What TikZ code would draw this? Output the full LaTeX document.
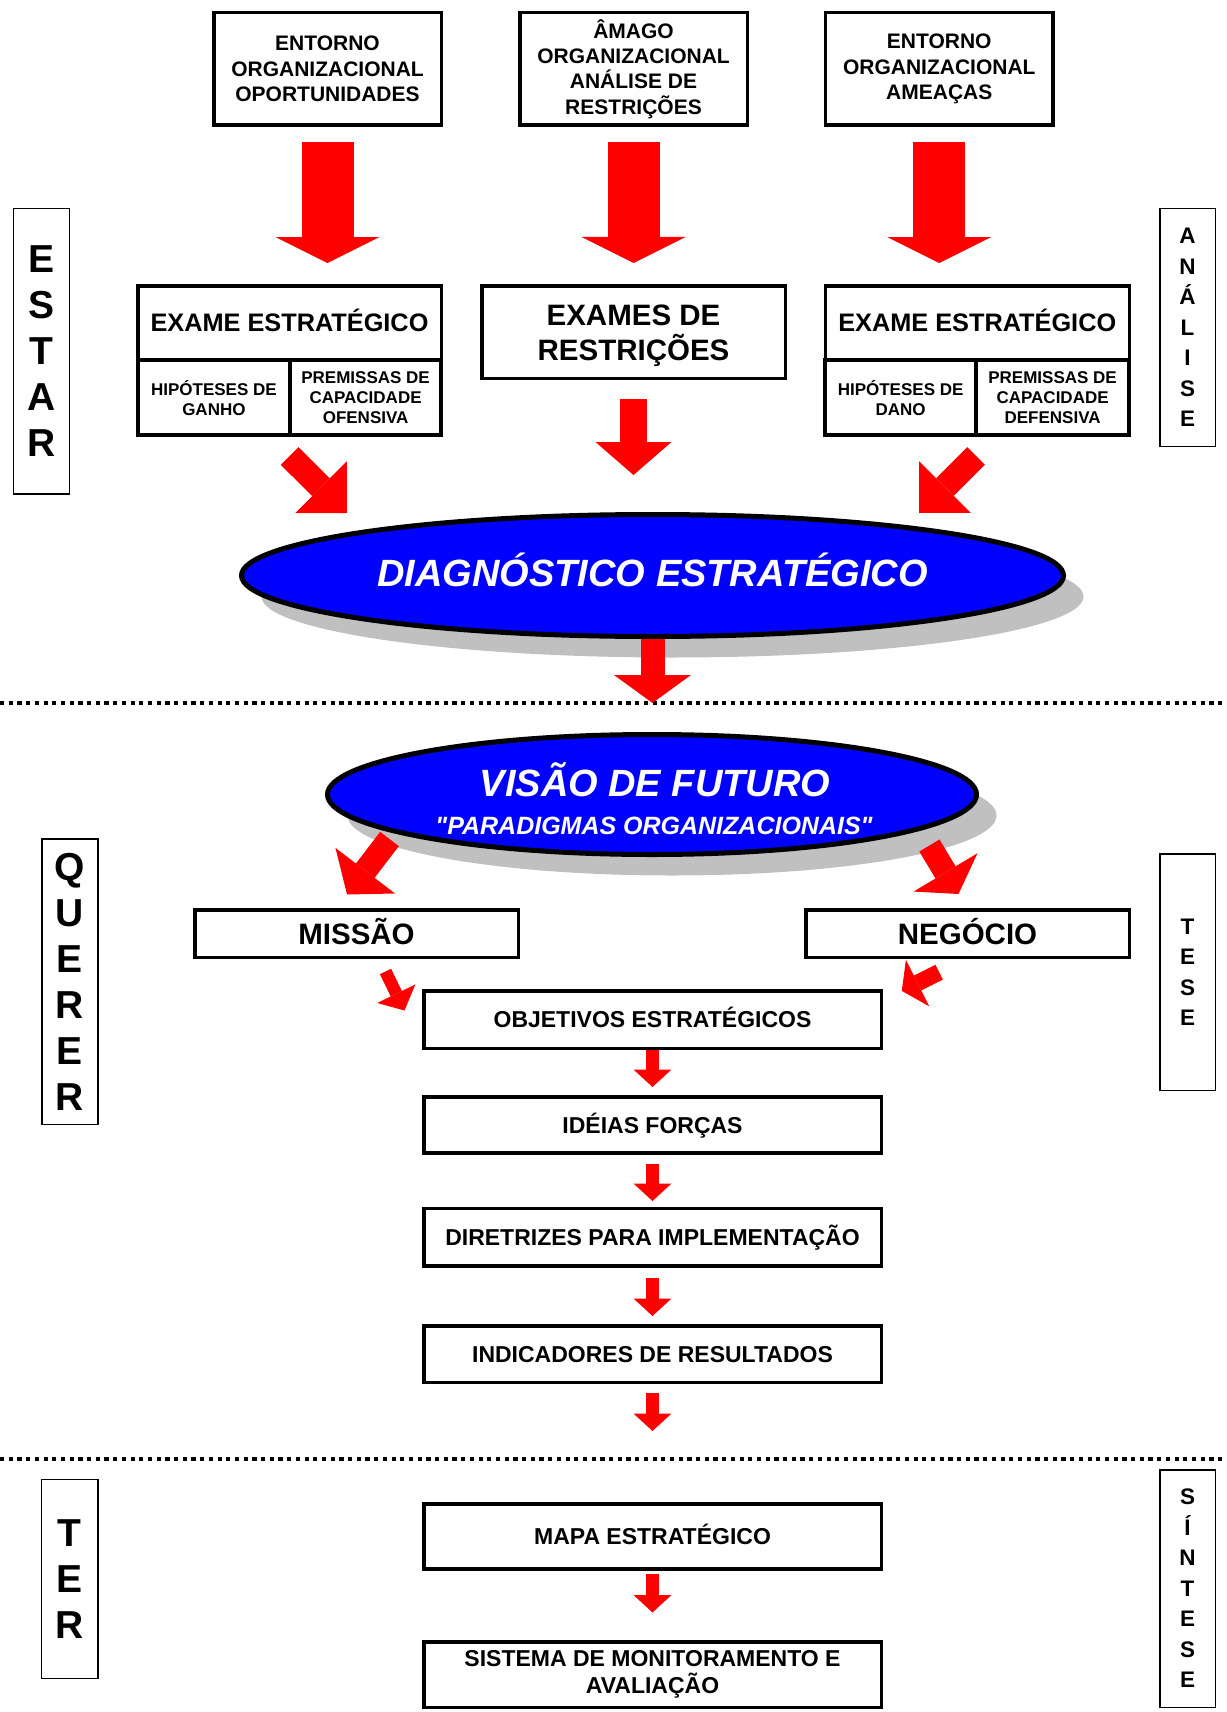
\documentclass[tikz,border=0pt]{standalone}
\usepackage{fontspec}
\setmainfont{Liberation Sans}
\usetikzlibrary{arrows.meta,shapes.geometric,shadows}
\definecolor{arrowred}{RGB}{255,0,0}
\definecolor{ovalblue}{RGB}{0,0,255}
\definecolor{shadowgray}{RGB}{192,192,192}
% font sizes
\newcommand{\fsTop}{\fontsize{10.5pt}{12.65pt}\selectfont}
\newcommand{\fsExam}{\fontsize{12.65pt}{15pt}\selectfont}
\newcommand{\fsCell}{\fontsize{8.5pt}{10pt}\selectfont}
\newcommand{\fsBig}{\fontsize{14.75pt}{17.5pt}\selectfont}
\newcommand{\fsBox}{\fontsize{11.5pt}{13.5pt}\selectfont}
\newcommand{\fsSideBig}{\fontsize{19.5pt}{23pt}\selectfont}
\newcommand{\fsSideSmall}{\fontsize{11.25pt}{15.25pt}\selectfont}
\newcommand{\fsOval}{\fontsize{19pt}{22pt}\selectfont}
\newcommand{\fsOvalSub}{\fontsize{12.5pt}{15pt}\selectfont}
% straight double quote, set as a glyph so no text mapping curls it
\newcommand{\straightquote}{\XeTeXglyph\XeTeXcharglyph"22\relax}
\begin{document}
\begin{tikzpicture}[x=0.5pt,y=-0.5pt,
  every node/.style={inner sep=0pt},
  box/.style={draw, line width=1.75pt, align=center},
  sidebox/.style={draw, line width=0.75pt, align=center},
  capline/.style={text height=#1, text depth=0pt},
  oval/.style={ellipse, draw, line width=2.5pt, fill=ovalblue, text=white,
    drop shadow={shadow xshift=10pt, shadow yshift=-10.5pt, fill=shadowgray, opacity=1}},
  blockarrow/.style n args={3}{draw=arrowred, line width=#1,
    -{Triangle[width=#2, length=#3, line width=0pt]}},
  sepline/.style={line width=2pt, dash pattern=on 2.1pt off 2.25pt},
]
\fill[white] (0,0) rectangle (1226,1712);
\useasboundingbox (0,0) rectangle (1226,1712);

% ---------- ESTAR ----------
\node[box, minimum width=113.75pt, minimum height=56.25pt, font=\bfseries\fsTop]
  (top1) at (327.5,69) {ENTORNO\\ORGANIZACIONAL\\OPORTUNIDADES};
\node[box, minimum width=113.75pt, minimum height=56.25pt, font=\bfseries\fsTop]
  (top2) at (633.5,69) {ÂMAGO\\ORGANIZACIONAL\\ANÁLISE DE\\RESTRIÇÕES};
\node[box, minimum width=113.75pt, minimum height=56.25pt, font=\bfseries\fsTop]
  (top3) at (939.25,69) {ENTORNO\\ORGANIZACIONAL\\AMEAÇAS};

% left strategic exam
\node[box, minimum width=151.75pt, minimum height=37.125pt, font=\bfseries\fsExam, capline=9.06pt]
  (ex1t) at (289.5,322.9) {EXAME ESTRATÉGICO};
\node[box, minimum width=76.125pt, minimum height=37.625pt, font=\bfseries\fsCell]
  (ex1a) at (213.9,397.6) {HIPÓTESES DE\\GANHO};
\node[box, minimum width=75.625pt, minimum height=37.625pt, font=\bfseries\fsCell]
  (ex1b) at (365.6,397.6) {PREMISSAS DE\\CAPACIDADE\\OFENSIVA};

% restriction exams
\node[box, minimum width=151.75pt, minimum height=46.25pt, font=\bfseries\fsBig]
  (exr) at (633.5,332) {\rule{0pt}{13.6pt}EXAMES DE\\RESTRIÇÕES};

% right strategic exam
\node[box, minimum width=152pt, minimum height=37.125pt, font=\bfseries\fsExam, capline=9.06pt]
  (ex3t) at (977.25,322.9) {EXAME ESTRATÉGICO};
\node[box, minimum width=75.375pt, minimum height=37.625pt, font=\bfseries\fsCell]
  (ex3a) at (900.6,397.6) {HIPÓTESES DE\\DANO};
\node[box, minimum width=76.625pt, minimum height=37.625pt, font=\bfseries\fsCell]
  (ex3b) at (1052.6,397.6) {PREMISSAS DE\\CAPACIDADE\\DEFENSIVA};

% side labels
\node[sidebox, minimum width=27.9pt, minimum height=142.75pt, font=\bfseries\fsSideBig]
  (estar) at (41.35,351.2) {E\\S\\T\\A\\R};
\node[sidebox, minimum width=27.75pt, minimum height=118.75pt, font=\bfseries\fsSideSmall]
  (analise) at (1187.5,327.5) {A\\N\\Á\\L\\I\\S\\E};

% diagnosis
\node[oval, minimum width=411pt, minimum height=61pt, font=\bfseries\itshape\fsOval,
      text height=13.6pt, text depth=2.5pt]
  (diag) at (652.5,575.5) {DIAGNÓSTICO ESTRATÉGICO};

% ---------- separators ----------
\coordinate (sep1w) at (0,703);
\coordinate (sep1e) at (1226,703);
\coordinate (sep1m) at (652.5,703);
\coordinate (sep2w) at (0,1459);
\coordinate (sep2e) at (1226,1459);
\draw[sepline] (sep1w) -- (sep1e);
\draw[sepline] (sep2w) -- (sep2e);

% ---------- QUERER ----------
\node[oval, minimum width=324.5pt, minimum height=60pt] (visao) at (652,794.5) {};
\node[anchor=base, text=white, font=\bfseries\itshape\fsOval]
  (vtitle) at (655,796.6) {VISÃO DE FUTURO};
\node[anchor=base, text=white, font=\bfseries\itshape\fsOvalSub]
  (vsub) at (654,834) {\straightquote PARADIGMAS ORGANIZACIONAIS\straightquote};

\node[box, minimum width=161.75pt, minimum height=23.75pt, font=\bfseries\fsBig, capline=10.56pt]
  (missao) at (356.5,933.5) {MISSÃO};
\node[box, minimum width=161.75pt, minimum height=23.75pt, font=\bfseries\fsBig, capline=10.56pt]
  (negocio) at (967.5,933.5) {NEGÓCIO};

\node[box, minimum width=228.75pt, minimum height=28.75pt, font=\bfseries\fsBox, capline=8.23pt]
  (objetivos) at (652.5,1019.5) {OBJETIVOS ESTRATÉGICOS};
\node[box, minimum width=228.75pt, minimum height=28.05pt, font=\bfseries\fsBox, capline=8.23pt]
  (ideias) at (652.5,1124.8) {IDÉIAS FORÇAS};
\node[box, minimum width=228.75pt, minimum height=28.7pt, font=\bfseries\fsBox, capline=8.23pt]
  (diretrizes) at (652.5,1237.25) {DIRETRIZES PARA IMPLEMENTAÇÃO};
\node[box, minimum width=228.75pt, minimum height=28.45pt, font=\bfseries\fsBox, capline=8.23pt]
  (indicadores) at (652.5,1354.2) {INDICADORES DE RESULTADOS};

\node[sidebox, minimum width=28pt, minimum height=142.75pt, font=\bfseries\fsSideBig]
  (querer) at (69.75,981.5) {Q\\U\\E\\R\\E\\R};
\node[sidebox, minimum width=27.75pt, minimum height=118.25pt, font=\bfseries\fsSideSmall]
  (tese) at (1187.5,972) {T\\E\\S\\E};

% ---------- TER ----------
\node[box, minimum width=228.75pt, minimum height=32.5pt, font=\bfseries\fsBox, capline=8.23pt]
  (mapa) at (652.5,1536.25) {MAPA ESTRATÉGICO};
\node[box, minimum width=228.75pt, minimum height=32.75pt, font=\bfseries\fsBox]
  (sistema) at (652.5,1674.5) {SISTEMA DE MONITORAMENTO E\\AVALIAÇÃO};

\node[sidebox, minimum width=28.15pt, minimum height=99.45pt, font=\bfseries\fsSideBig]
  (ter) at (69.6,1578.8) {T\\E\\R};
\node[sidebox, minimum width=27.75pt, minimum height=118.75pt, font=\bfseries\fsSideSmall]
  (sintese) at (1187.5,1588.5) {S\\Í\\N\\T\\E\\S\\E};

% ---------- arrows ----------
\draw[blockarrow={26pt}{52pt}{13pt}, shorten <=7.5pt, shorten >=10.5pt]
  (top1.south) -- (top1.south |- ex1t.north);
\draw[blockarrow={26pt}{52pt}{13pt}, shorten <=7.5pt, shorten >=10.5pt]
  (top2.south) -- (exr.north);
\draw[blockarrow={26pt}{52pt}{13pt}, shorten <=7.5pt, shorten >=10.5pt]
  (top3.south) -- (top3.south |- ex3t.north);

\draw[blockarrow={13.5pt}{38pt}{16.5pt}, shorten <=9.5pt, shorten >=18.5pt]
  (exr.south) -- (exr.south |- diag.north);

\coordinate (ex1out) at (289.6,456);
\coordinate (diagin1) at (347,513);
\coordinate (ex3out) at (976,456);
\coordinate (diagin3) at (919,513);
\draw[blockarrow={12.5pt}{36.5pt}{18.3pt}] (ex1out) -- (diagin1);
\draw[blockarrow={12.5pt}{36.5pt}{18.3pt}] (ex3out) -- (diagin3);

\draw[blockarrow={12pt}{38.5pt}{14pt}] (diag.south) -- (sep1m);

\coordinate (visout1) at (389.5,839);
\coordinate (missin) at (347,894.5);
\coordinate (visout2) at (929.4,845.5);
\coordinate (negin) at (958.5,894);
\draw[blockarrow={11.75pt}{37.5pt}{15pt}] (visout1) -- (missin);
\draw[blockarrow={11.75pt}{37.25pt}{12.6pt}] (visout2) -- (negin);

\coordinate (missout) at (385.5,971.5);
\coordinate (objin1) at (404.5,1010.5);
\coordinate (negout) at (939.2,972.2);
\coordinate (objin2) at (901.8,990.9);
\draw[blockarrow={6.2pt}{21.2pt}{9.35pt}] (missout) -- (objin1);
\draw[blockarrow={8.25pt}{26pt}{8.8pt}] (negout) -- (objin2);

\draw[blockarrow={6.5pt}{19pt}{8.75pt}, shorten >=4pt]
  (objetivos.south) -- (ideias.north);
\draw[blockarrow={6.5pt}{19pt}{8.75pt}, shorten <=4.7pt, shorten >=2.9pt]
  (ideias.south) -- (diretrizes.north);
\draw[blockarrow={6.5pt}{19pt}{8.75pt}, shorten <=5.15pt, shorten >=4pt]
  (diretrizes.south) -- (indicadores.north);
\coordinate (indend) at (652.5,1431);
\draw[blockarrow={6.5pt}{19pt}{8.75pt}, shorten <=4.3pt]
  (indicadores.south) -- (indend);
\draw[blockarrow={6.5pt}{19pt}{8.75pt}, shorten <=1.75pt, shorten >=13.75pt]
  (mapa.south) -- (sistema.north);
\end{tikzpicture}
\end{document}
